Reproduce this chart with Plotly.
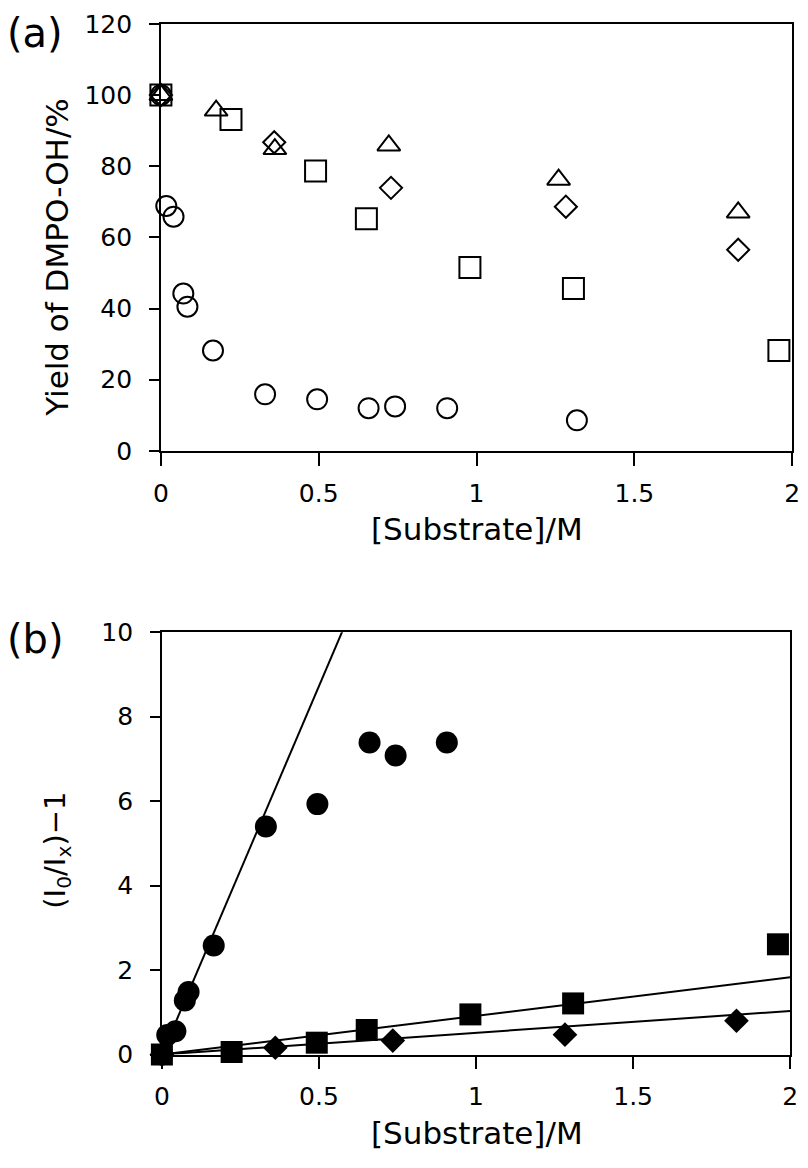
import plotly.graph_objects as go

# ---------- data: panel (a) yield of DMPO-OH (%) ----------
a_circ_x = [0, 0.017, 0.04, 0.071, 0.084, 0.165, 0.33, 0.495, 0.658, 0.742, 0.907, 1.318]
a_circ_y = [100, 68.8, 65.8, 44.2, 40.5, 28.2, 15.9, 14.5, 12.0, 12.5, 12.0, 8.6]
a_sq_x = [0, 0.222, 0.49, 0.651, 0.979, 1.307, 1.958]
a_sq_y = [100, 93.1, 78.6, 65.2, 51.5, 45.6, 28.2]
a_tri_x = [0, 0.175, 0.361, 0.722, 1.26, 1.829]
a_tri_y = [100, 95.6, 84.8, 85.8, 76.2, 67.0]
a_dia_x = [0, 0.359, 0.729, 1.283, 1.829]
a_dia_y = [100, 86.7, 73.9, 68.6, 56.5]

# ---------- data: panel (b) (I0/Ix)-1 ----------
b_circ_x = [0, 0.017, 0.043, 0.073, 0.085, 0.165, 0.331, 0.495, 0.661, 0.744, 0.907]
b_circ_y = [0, 0.46, 0.55, 1.28, 1.48, 2.58, 5.40, 5.93, 7.39, 7.08, 7.39]
b_sq_x = [0, 0.222, 0.493, 0.652, 0.982, 1.309, 1.961]
b_sq_y = [0, 0.06, 0.28, 0.58, 0.95, 1.21, 2.61]
b_dia_x = [0, 0.361, 0.735, 1.283, 1.829]
b_dia_y = [0, 0.16, 0.33, 0.47, 0.80]

# fitted Stern-Volmer slopes (lines through the origin)
fit_names = ["circle", "square", "diamond"]
fit_slopes = [17.45, 0.915, 0.515]
fit_x = [0, 2]

x_ticks = [0, 0.5, 1, 1.5, 2]
x_tick_text = ["0", "0.5", "1", "1.5", "2"]
a_y_ticks = [0, 20, 40, 60, 80, 100, 120]
b_y_ticks = [0, 2, 4, 6, 8, 10]

W, H = 808, 1168
FONT = "DejaVu Sans"


def px(x):
    return x / W


def py(y):
    return 1 - y / H


fig = go.Figure()

open_line = dict(color="black", width=2)
# panel (a) open markers
fig.add_trace(go.Scatter(x=a_sq_x, y=a_sq_y, mode="markers", cliponaxis=False,
                         marker=dict(symbol="square-open", size=21, color="black", line=open_line),
                         xaxis="x", yaxis="y"))
fig.add_trace(go.Scatter(x=a_dia_x, y=a_dia_y, mode="markers", cliponaxis=False,
                         marker=dict(symbol="diamond-open", size=17, color="black", line=open_line),
                         xaxis="x", yaxis="y"))
fig.add_trace(go.Scatter(x=a_tri_x, y=a_tri_y, mode="markers", cliponaxis=False,
                         marker=dict(symbol="triangle-up-open", size=20, color="black", line=open_line),
                         xaxis="x", yaxis="y"))
fig.add_trace(go.Scatter(x=a_circ_x, y=a_circ_y, mode="markers", cliponaxis=False,
                         marker=dict(symbol="circle-open", size=20, color="black", line=open_line),
                         xaxis="x", yaxis="y"))

# panel (b) fit lines
for name, k in zip(fit_names, fit_slopes):
    fig.add_trace(go.Scatter(x=fit_x, y=[k * v for v in fit_x], mode="lines",
                             line=dict(color="black", width=2), xaxis="x2", yaxis="y2"))

# panel (b) filled markers
fig.add_trace(go.Scatter(x=b_circ_x, y=b_circ_y, mode="markers", cliponaxis=False,
                         marker=dict(symbol="circle", size=22, color="black"),
                         xaxis="x2", yaxis="y2"))
fig.add_trace(go.Scatter(x=b_sq_x, y=b_sq_y, mode="markers", cliponaxis=False,
                         marker=dict(symbol="square", size=22, color="black"),
                         xaxis="x2", yaxis="y2"))
fig.add_trace(go.Scatter(x=b_dia_x, y=b_dia_y, mode="markers", cliponaxis=False,
                         marker=dict(symbol="diamond", size=19, color="black"),
                         xaxis="x2", yaxis="y2"))

axis_common = dict(showline=True, mirror=True, linecolor="black", linewidth=1.5,
                   ticks="outside", tickcolor="black", tickwidth=1.5,
                   showgrid=False, zeroline=False,
                   tickfont=dict(family=FONT, size=25, color="black"))

fig.update_layout(
    width=W, height=H,
    margin=dict(l=0, r=0, t=0, b=0),
    paper_bgcolor="white", plot_bgcolor="white",
    showlegend=False,
    xaxis=dict(axis_common, domain=[px(156), px(800)], range=[0, 2],
               tickvals=x_ticks, ticktext=x_tick_text, ticklen=13,
               ticklabelstandoff=6, anchor="y"),
    yaxis=dict(axis_common, domain=[py(448), py(10)], range=[0, 120],
               tickvals=a_y_ticks, ticklen=10, ticklabelstandoff=12, anchor="x"),
    xaxis2=dict(axis_common, domain=[px(157), px(798)], range=[0, 2],
                tickvals=x_ticks, ticktext=x_tick_text, ticklen=13,
                ticklabelstandoff=6, anchor="y2"),
    yaxis2=dict(axis_common, domain=[py(1067), py(634)], range=[0, 10],
                tickvals=b_y_ticks, ticklen=10, ticklabelstandoff=12, anchor="x2"),
)

ann_font = dict(family=FONT, size=31, color="black")
annotations = [
    dict(text="(a)", x=px(-3), y=py(19), xanchor="left", yanchor="middle",
         font=dict(family=FONT, size=40, color="black")),
    dict(text="(b)", x=px(-3), y=py(641), xanchor="left", yanchor="middle",
         font=dict(family=FONT, size=40, color="black")),
    dict(text="Yield of DMPO-OH/%", x=px(50), y=py(250), textangle=-90,
         xanchor="center", yanchor="middle", font=ann_font),
    dict(text="[Substrate]/M", x=px(478), y=py(528), xanchor="center", yanchor="middle",
         font=ann_font),
    dict(text="(I<sub>0</sub>/I<sub>x</sub>)\u22121", x=px(50), y=py(858), textangle=-90,
         xanchor="center", yanchor="middle", font=dict(family=FONT, size=29, color="black")),
    dict(text="[Substrate]/M", x=px(478), y=py(1148), xanchor="center", yanchor="middle",
         font=ann_font),
]
for a in annotations:
    a.update(xref="paper", yref="paper", showarrow=False)
fig.update_layout(annotations=annotations)

fig.write_html("out.html", config={"displayModeBar": False},
               post_script="document.body.style.margin='0';document.body.style.overflow='hidden';")
